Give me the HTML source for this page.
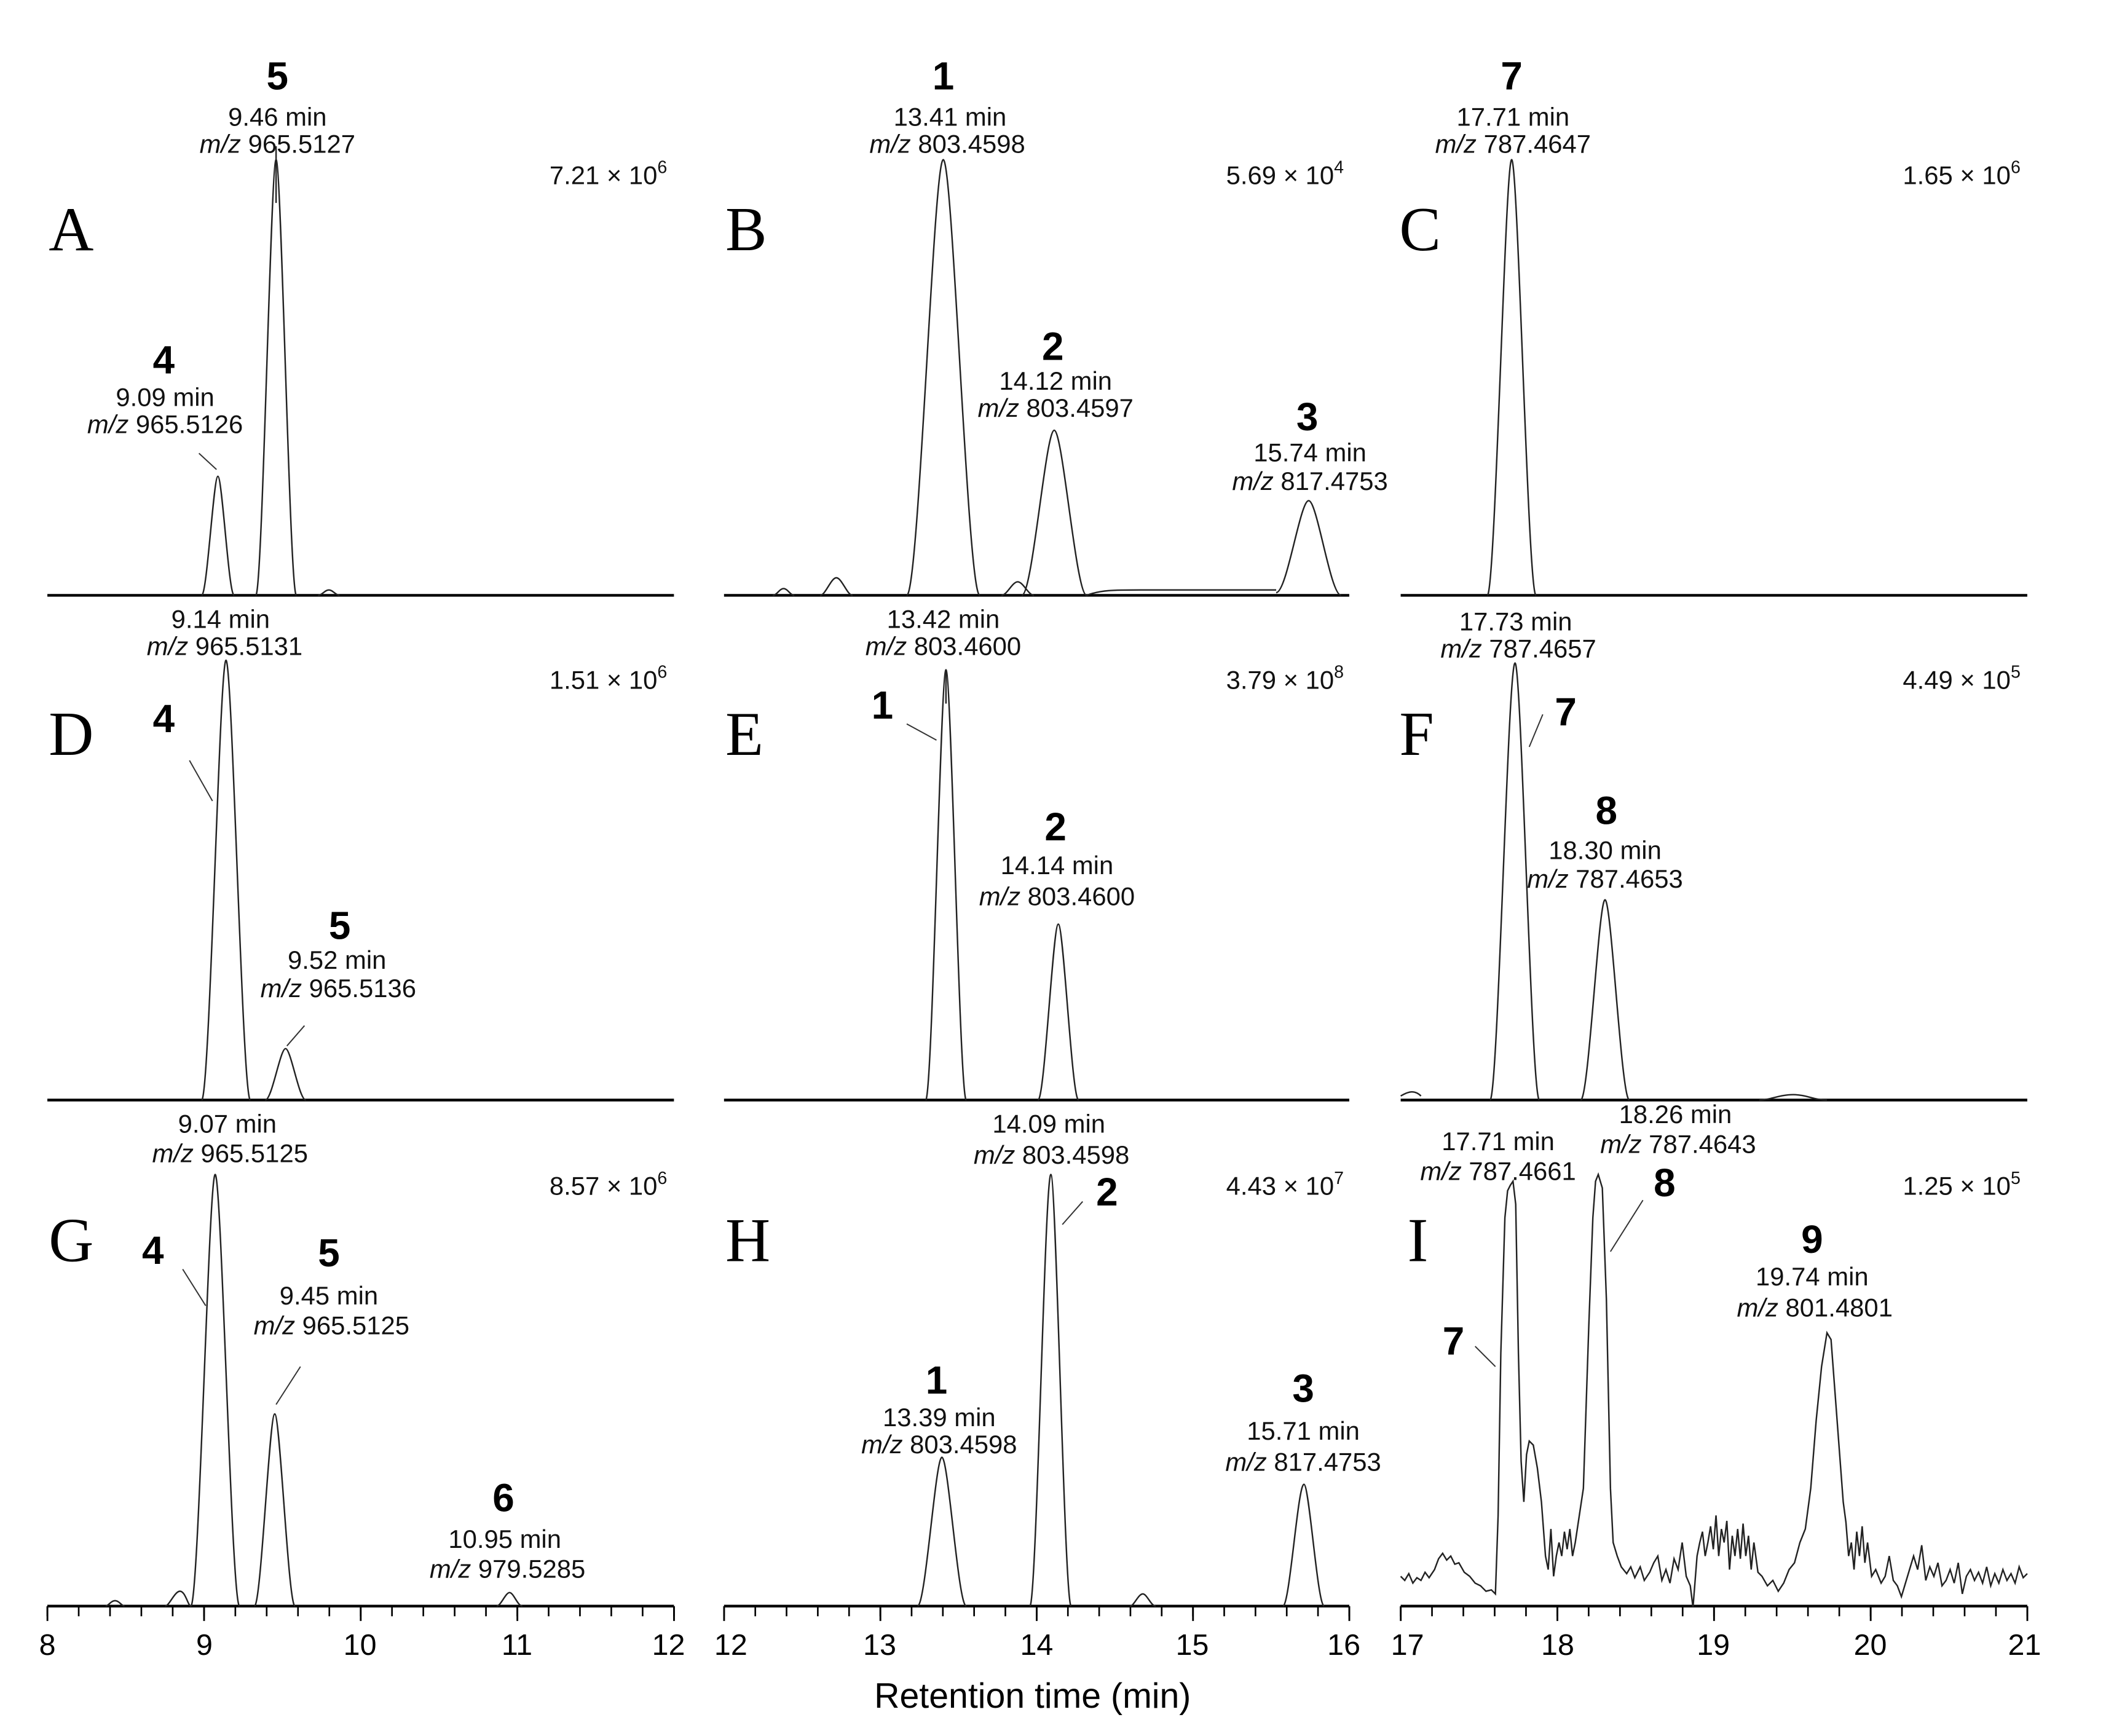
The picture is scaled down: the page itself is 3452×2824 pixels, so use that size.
<!DOCTYPE html>
<html><head><meta charset="utf-8"><style>
html,body{margin:0;padding:0;background:#fff}
svg{display:block}
.t{font-family:"Liberation Sans",sans-serif;font-size:19px;fill:#111;text-anchor:middle}
.b{font-family:"Liberation Sans",sans-serif;font-size:29px;font-weight:bold;fill:#000;text-anchor:middle}
.L{font-family:"Liberation Serif",serif;font-size:46px;fill:#000}
.s{font-family:"Liberation Sans",sans-serif;font-size:19px;fill:#111;text-anchor:end}
.k{font-family:"Liberation Sans",sans-serif;font-size:22px;fill:#000;text-anchor:middle}
.p{fill:none;stroke:#222;stroke-width:1.1}
.ax{stroke:#000;stroke-width:2}
.ld{stroke:#333;stroke-width:0.9}
</style></head><body>
<svg width="3452" height="2824" viewBox="0 0 1568 1283" preserveAspectRatio="none" xmlns="http://www.w3.org/2000/svg">
<g class="ax">
<line x1="35" y1="440" x2="498" y2="440"/><line x1="535" y1="440" x2="997" y2="440"/><line x1="1035" y1="440" x2="1498" y2="440"/>
<line x1="35" y1="813" x2="498" y2="813"/><line x1="535" y1="813" x2="997" y2="813"/><line x1="1035" y1="813" x2="1498" y2="813"/>
<line x1="35" y1="1187" x2="498" y2="1187"/><line x1="535" y1="1187" x2="997" y2="1187"/><line x1="1035" y1="1187" x2="1498" y2="1187"/>
</g>
<g stroke="#000">
<line x1="34.4" y1="1191" x2="499" y2="1191" stroke-width="7" stroke-dasharray="1.2 21.95"/>
<line x1="534.4" y1="1191" x2="998" y2="1191" stroke-width="7" stroke-dasharray="1.2 21.9"/>
<line x1="1034.4" y1="1191" x2="1499" y2="1191" stroke-width="7" stroke-dasharray="1.2 21.95"/>
<line x1="34.4" y1="1192.5" x2="499" y2="1192.5" stroke-width="11" stroke-dasharray="1.3 114.45"/>
<line x1="534.4" y1="1192.5" x2="998" y2="1192.5" stroke-width="11" stroke-dasharray="1.3 114.2"/>
<line x1="1034.4" y1="1192.5" x2="1499" y2="1192.5" stroke-width="11" stroke-dasharray="1.3 114.45"/>
</g>
<g class="k">
<text x="35" y="1223">8</text><text x="151" y="1223">9</text><text x="266" y="1223">10</text><text x="382" y="1223">11</text><text x="494" y="1223">12</text>
<text x="540" y="1223">12</text><text x="650" y="1223">13</text><text x="766" y="1223">14</text><text x="881" y="1223">15</text><text x="993" y="1223">16</text>
<text x="1040" y="1223">17</text><text x="1151" y="1223">18</text><text x="1266" y="1223">19</text><text x="1382" y="1223">20</text><text x="1496" y="1223">21</text>
</g>
<text x="763" y="1262" class="k" style="font-size:26px">Retention time (min)</text>
<g class="L">
<text x="36" y="185">A</text><text x="536" y="185">B</text><text x="1034" y="185">C</text>
<text x="36" y="558">D</text><text x="536" y="558">E</text><text x="1034" y="558">F</text>
<text x="36" y="932">G</text><text x="536" y="932">H</text><text x="1040" y="932">I</text>
</g>
<g class="s">
<text x="493" y="136">7.21 × 10<tspan dy="-8" font-size="13">6</tspan></text>
<text x="993" y="136">5.69 × 10<tspan dy="-8" font-size="13">4</tspan></text>
<text x="1493" y="136">1.65 × 10<tspan dy="-8" font-size="13">6</tspan></text>
<text x="493" y="509">1.51 × 10<tspan dy="-8" font-size="13">6</tspan></text>
<text x="993" y="509">3.79 × 10<tspan dy="-8" font-size="13">8</tspan></text>
<text x="1493" y="509">4.49 × 10<tspan dy="-8" font-size="13">5</tspan></text>
<text x="493" y="883">8.57 × 10<tspan dy="-8" font-size="13">6</tspan></text>
<text x="993" y="883">4.43 × 10<tspan dy="-8" font-size="13">7</tspan></text>
<text x="1493" y="883">1.25 × 10<tspan dy="-8" font-size="13">5</tspan></text>
</g>
<g class="p">
<path d="M149,440 c4,0 8.8,-88 12,-88 c3.2,0 8,88 12,88"/>
<path d="M189,440 c5,0 11,-322 15,-322 c4,0 10,322 15,322"/>
<path d="M235,440 c3,0 5,-4 8,-4 c3,0 5,4 8,4"/>
<line x1="204" y1="108" x2="204" y2="150"/>
<path d="M571,440 c3,0 5,-5 8,-5 c3,0 5,5 8,5"/>
<path d="M606,440 c4,0 8,-13 12,-13 c4,0 8,13 12,13"/>
<path d="M670,440 c9,0 19.8,-322 27,-322 c7.2,0 18,322 27,322"/>
<path d="M740,440 c4,0 8,-10 12,-10 c4,0 8,10 12,10"/>
<path d="M755,440 c8,0 17.6,-122 24,-122 c6.4,0 16,122 24,122"/>
<path d="M803,440 c10,-4 20,-4 40,-4 c30,0 80,0 100,0"/>
<path d="M943,438 c8,0 17.6,-68 24,-68 c6.4,0 16,70 24,70"/>
<path d="M1099,440 c6,0 13.2,-322 18,-322 c4.8,0 12,322 18,322"/>
<path d="M149,813 c6,0 13.2,-325 18,-325 c4.8,0 12,325 18,325"/>
<path d="M196,813 c5,0 11,-38 15,-38 c4,0 10,38 15,38"/>
<path d="M684,813 c5,0 11,-318 15,-318 c4,0 10,318 15,318"/>
<line x1="699" y1="495" x2="699" y2="520"/>
<path d="M767,813 c5,0 11,-130 15,-130 c4,0 10,130 15,130"/>
<path d="M1035,810 c5,-3 10,-5 15,0"/>
<path d="M1101,813 c6,0 13.2,-323 18.5,-323 c4.8,0 12,323 18,323"/>
<path d="M1168,813 c6,0 13.2,-148 18,-148 c4.8,0 12,148 18,148"/>
<path d="M1300,813 c8,0 15,-4 25,-4 c10,0 15,4 25,4"/>
<path d="M78,1187 c2,0 4,-4 7,-4 c3,0 5,4 7,4"/>
<path d="M122,1187 c3,0 7,-11 11,-11 c4,0 6,11 8,11"/>
<path d="M141,1187 c6,0 13.2,-319 18,-319 c4.8,0 12,319 18,319"/>
<path d="M188,1187 c5,0 11,-142 15,-142 c4,0 10,142 15,142"/>
<path d="M367,1187 c3,0 6.6,-10 9.5,-10 c3,0 6,10 9.5,10"/>
<path d="M678,1187 c6,0 13.2,-110 18,-110 c4.8,0 12,110 18,110"/>
<path d="M761,1187 c5,0 11,-319 15.5,-319 c4,0 10,319 15,319"/>
<path d="M835,1187 c3,0 6,-9 9.5,-9 c3,0 6,9 9.5,9"/>
<path d="M948,1187 c5,0 11,-90 15.5,-90 c4,0 10,90 15,90"/>
<polyline points="1035,1165 1038,1168 1041,1163 1044,1170 1047,1166 1050,1168 1053,1162 1056,1166 1060,1160 1063,1152 1066,1148 1069,1153 1072,1150 1075,1156 1078,1155 1082,1162 1086,1165 1090,1170 1094,1172 1098,1176 1102,1175 1105,1178 1107,1120 1109,1000 1112,900 1114,880 1116,876 1118,873 1120,890 1122,1000 1124,1080 1126,1110 1128,1075 1130,1065 1133,1068 1136,1085 1139,1110 1142,1150 1144,1160 1146,1130 1148,1165 1150,1150 1152,1140 1154,1150 1156,1132 1158,1145 1160,1130 1162,1150 1164,1140 1167,1120 1170,1100 1174,980 1177,900 1179,873 1181,868 1184,878 1187,960 1190,1100 1192,1140 1195,1150 1198,1158 1202,1163 1205,1158 1208,1166 1212,1158 1215,1168 1219,1162 1222,1155 1225,1150 1228,1168 1231,1160 1234,1170 1237,1152 1240,1160 1243,1140 1246,1165 1249,1172 1251,1188 1254,1150 1256,1140 1258,1132 1260,1150 1262,1140 1264,1128 1266,1145 1268,1120 1270,1150 1272,1130 1274,1140 1276,1124 1278,1160 1280,1135 1282,1150 1284,1130 1286,1152 1288,1126 1290,1150 1292,1135 1294,1160 1296,1140 1299,1162 1302,1165 1306,1172 1310,1168 1314,1176 1318,1170 1322,1160 1326,1155 1330,1140 1334,1130 1338,1100 1342,1050 1346,1010 1350,985 1353,990 1356,1030 1359,1070 1362,1110 1364,1125 1366,1150 1368,1140 1370,1160 1372,1132 1374,1150 1376,1128 1378,1155 1380,1140 1383,1165 1386,1160 1390,1170 1393,1165 1396,1150 1399,1168 1402,1172 1405,1180 1408,1170 1411,1160 1414,1150 1417,1160 1420,1142 1423,1168 1426,1158 1429,1165 1432,1155 1435,1172 1438,1168 1441,1160 1444,1170 1447,1155 1450,1178 1453,1165 1456,1160 1459,1168 1462,1162 1465,1170 1468,1158 1471,1172 1474,1163 1477,1170 1480,1160 1483,1168 1486,1163 1489,1170 1492,1158 1495,1166 1498,1163"/>
</g>
<g class="ld">
<line x1="147" y1="335" x2="160" y2="347"/>
<line x1="140" y1="562" x2="157" y2="592"/>
<line x1="225" y1="758" x2="212" y2="773"/>
<line x1="670" y1="535" x2="692" y2="547"/>
<line x1="1140" y1="528" x2="1130" y2="552"/>
<line x1="135" y1="938" x2="152" y2="965"/>
<line x1="222" y1="1010" x2="204" y2="1038"/>
<line x1="800" y1="888" x2="785" y2="905"/>
<line x1="1214" y1="887" x2="1190" y2="925"/>
<line x1="1090" y1="995" x2="1105" y2="1010"/>
</g>
<g>
<text class="b" x="205" y="66">5</text><text class="t" x="205" y="93">9.46 min</text><text class="t" x="205" y="113"><tspan font-style="italic">m/z</tspan> 965.5127</text>
<text class="b" x="121" y="276">4</text><text class="t" x="122" y="300">9.09 min</text><text class="t" x="122" y="320"><tspan font-style="italic">m/z</tspan> 965.5126</text>
<text class="b" x="697" y="66">1</text><text class="t" x="702" y="93">13.41 min</text><text class="t" x="700" y="113"><tspan font-style="italic">m/z</tspan> 803.4598</text>
<text class="b" x="778" y="266">2</text><text class="t" x="780" y="288">14.12 min</text><text class="t" x="780" y="308"><tspan font-style="italic">m/z</tspan> 803.4597</text>
<text class="b" x="966" y="318">3</text><text class="t" x="968" y="341">15.74 min</text><text class="t" x="968" y="362"><tspan font-style="italic">m/z</tspan> 817.4753</text>
<text class="b" x="1117" y="66">7</text><text class="t" x="1118" y="93">17.71 min</text><text class="t" x="1118" y="113"><tspan font-style="italic">m/z</tspan> 787.4647</text>

<text class="t" x="163" y="464">9.14 min</text><text class="t" x="166" y="484"><tspan font-style="italic">m/z</tspan> 965.5131</text>
<text class="b" x="121" y="541">4</text>
<text class="b" x="251" y="694">5</text><text class="t" x="249" y="716">9.52 min</text><text class="t" x="250" y="737"><tspan font-style="italic">m/z</tspan> 965.5136</text>
<text class="t" x="697" y="464">13.42 min</text><text class="t" x="697" y="484"><tspan font-style="italic">m/z</tspan> 803.4600</text>
<text class="b" x="652" y="531">1</text>
<text class="b" x="780" y="621">2</text><text class="t" x="781" y="646">14.14 min</text><text class="t" x="781" y="669"><tspan font-style="italic">m/z</tspan> 803.4600</text>
<text class="t" x="1120" y="466">17.73 min</text><text class="t" x="1122" y="486"><tspan font-style="italic">m/z</tspan> 787.4657</text>
<text class="b" x="1157" y="536">7</text>
<text class="b" x="1187" y="609">8</text><text class="t" x="1186" y="635">18.30 min</text><text class="t" x="1186" y="656"><tspan font-style="italic">m/z</tspan> 787.4653</text>

<text class="t" x="168" y="837">9.07 min</text><text class="t" x="170" y="859"><tspan font-style="italic">m/z</tspan> 965.5125</text>
<text class="b" x="113" y="934">4</text>
<text class="b" x="243" y="936">5</text><text class="t" x="243" y="964">9.45 min</text><text class="t" x="245" y="986"><tspan font-style="italic">m/z</tspan> 965.5125</text>
<text class="b" x="372" y="1117">6</text><text class="t" x="373" y="1144">10.95 min</text><text class="t" x="375" y="1166"><tspan font-style="italic">m/z</tspan> 979.5285</text>
<text class="t" x="775" y="837">14.09 min</text><text class="t" x="777" y="860"><tspan font-style="italic">m/z</tspan> 803.4598</text>
<text class="b" x="818" y="891">2</text>
<text class="b" x="692" y="1030">1</text><text class="t" x="694" y="1054">13.39 min</text><text class="t" x="694" y="1074"><tspan font-style="italic">m/z</tspan> 803.4598</text>
<text class="b" x="963" y="1036">3</text><text class="t" x="963" y="1064">15.71 min</text><text class="t" x="963" y="1087"><tspan font-style="italic">m/z</tspan> 817.4753</text>
<text class="t" x="1107" y="850">17.71 min</text><text class="t" x="1107" y="872"><tspan font-style="italic">m/z</tspan> 787.4661</text>
<text class="t" x="1238" y="830">18.26 min</text><text class="t" x="1240" y="852"><tspan font-style="italic">m/z</tspan> 787.4643</text>
<text class="b" x="1230" y="884">8</text>
<text class="b" x="1074" y="1001">7</text>
<text class="b" x="1339" y="926">9</text><text class="t" x="1339" y="950">19.74 min</text><text class="t" x="1341" y="973"><tspan font-style="italic">m/z</tspan> 801.4801</text>
</g>
</svg>
</body></html>
